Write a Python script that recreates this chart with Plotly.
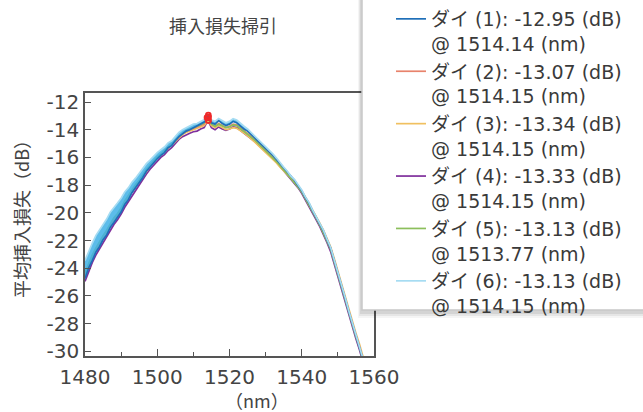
import plotly.graph_objects as go

# ---------------- data ----------------
WAVELENGTH = list(range(1480, 1559))  # nm

DIE1 = [-24.75, -24.0, -23.45, -22.85, -22.45, -21.95, -21.6, -21.05, -20.7, -20.3,
        -19.95, -19.4, -19.05, -18.55, -18.2, -17.8, -17.45, -17.0, -16.7, -16.35,
        -16.1, -15.85, -15.65, -15.3, -15.15, -14.8, -14.5, -14.3, -14.1, -14.0,
        -13.85, -13.75, -13.6, -13.45, -12.95, -13.5, -13.6, -13.35, -13.55, -13.7,
        -13.6, -13.4, -13.5, -13.75, -13.95, -14.1, -14.35, -14.6, -14.8, -15.1,
        -15.35, -15.55, -15.85, -16.15, -16.45, -16.8, -17.05, -17.4, -17.65, -18.05,
        -18.4, -18.9, -19.3, -19.85, -20.3, -20.85, -21.3, -21.95, -22.55, -23.45,
        -24.3, -25.25, -26.15, -27.1, -28.0, -28.85, -29.65, -30.55, -31.5]
DIE2 = [-24.4, -23.75, -23.15, -22.65, -22.15, -21.75, -21.35, -20.85, -20.45, -20.15,
        -19.75, -19.25, -18.85, -18.45, -18.05, -17.7, -17.35, -16.95, -16.6, -16.3,
        -16.0, -15.8, -15.55, -15.3, -15.05, -14.8, -14.5, -14.3, -14.1, -14.0,
        -13.9, -13.85, -13.7, -13.6, -13.07, -13.6, -13.75, -13.55, -13.7, -13.85,
        -13.75, -13.6, -13.65, -13.85, -14.05, -14.25, -14.45, -14.7, -14.95, -15.2,
        -15.45, -15.7, -15.95, -16.25, -16.55, -16.85, -17.15, -17.45, -17.75, -18.1,
        -18.45, -18.9, -19.35, -19.85, -20.35, -20.85, -21.35, -21.95, -22.55, -23.45,
        -24.35, -25.25, -26.15, -27.1, -28.05, -28.85, -29.65, -30.55, -31.55]
DIE3 = [-24.5, -23.8, -23.2, -22.7, -22.2, -21.8, -21.4, -20.9, -20.5, -20.2,
        -19.8, -19.3, -18.9, -18.5, -18.1, -17.75, -17.4, -17.0, -16.65, -16.35,
        -16.05, -15.85, -15.6, -15.35, -15.1, -14.85, -14.55, -14.35, -14.2, -14.1,
        -14.0, -13.95, -13.8, -13.7, -13.34, -13.7, -13.85, -13.7, -13.85, -14.0,
        -13.95, -13.85, -13.9, -14.05, -14.25, -14.45, -14.65, -14.9, -15.15, -15.4,
        -15.65, -15.85, -16.1, -16.4, -16.7, -16.95, -17.25, -17.5, -17.8, -18.1,
        -18.45, -18.85, -19.3, -19.75, -20.25, -20.75, -21.25, -21.85, -22.45, -23.3,
        -24.2, -25.1, -26.0, -26.95, -27.9, -28.7, -29.5, -30.4, -31.35]
DIE4 = [-24.95, -24.2, -23.6, -23.05, -22.6, -22.15, -21.75, -21.25, -20.85, -20.5,
        -20.1, -19.6, -19.2, -18.75, -18.35, -18.0, -17.6, -17.2, -16.85, -16.55,
        -16.25, -16.0, -15.8, -15.5, -15.3, -15.0, -14.7, -14.5, -14.35, -14.25,
        -14.15, -14.1, -13.95, -13.85, -13.33, -13.85, -14.0, -13.8, -13.95, -14.05,
        -13.95, -13.8, -13.85, -14.05, -14.2, -14.4, -14.6, -14.85, -15.1, -15.35,
        -15.55, -15.8, -16.05, -16.35, -16.65, -16.95, -17.25, -17.55, -17.85, -18.2,
        -18.6, -19.05, -19.5, -20.0, -20.5, -21.0, -21.55, -22.15, -22.8, -23.7,
        -24.6, -25.5, -26.4, -27.35, -28.3, -29.1, -29.9, -30.8, -31.8]
DIE5 = [-24.3, -23.65, -23.05, -22.55, -22.05, -21.65, -21.25, -20.75, -20.35, -20.05,
        -19.65, -19.15, -18.75, -18.35, -17.95, -17.65, -17.25, -16.85, -16.55, -16.25,
        -15.95, -15.75, -15.5, -15.25, -15.0, -14.75, -14.45, -14.25, -14.05, -13.95,
        -13.85, -13.8, -13.65, -13.5, -13.13, -13.6, -13.75, -13.6, -13.7, -13.85,
        -13.8, -13.65, -13.7, -13.9, -14.1, -14.3, -14.5, -14.75, -15.0, -15.25,
        -15.5, -15.75, -16.0, -16.3, -16.6, -16.9, -17.2, -17.5, -17.8, -18.15,
        -18.5, -18.95, -19.4, -19.9, -20.4, -20.9, -21.45, -22.05, -22.65, -23.55,
        -24.45, -25.35, -26.25, -27.2, -28.15, -28.95, -29.75, -30.65, -31.65]
DIE6 = [-23.45, -22.75, -22.2, -21.65, -21.25, -20.8, -20.45, -19.95, -19.65, -19.3,
        -18.95, -18.5, -18.2, -17.8, -17.5, -17.15, -16.85, -16.45, -16.2, -15.9,
        -15.65, -15.45, -15.25, -14.95, -14.8, -14.5, -14.2, -14.0, -13.85, -13.75,
        -13.6, -13.55, -13.4, -13.3, -13.13, -13.3, -13.4, -13.2, -13.35, -13.5,
        -13.4, -13.2, -13.3, -13.55, -13.75, -13.95, -14.2, -14.45, -14.7, -14.95,
        -15.25, -15.5, -15.75, -16.05, -16.4, -16.7, -17.0, -17.35, -17.6, -18.0,
        -18.35, -18.85, -19.25, -19.8, -20.25, -20.8, -21.25, -21.9, -22.5, -23.4,
        -24.25, -25.2, -26.1, -27.05, -27.95, -28.8, -29.6, -30.5, -31.45]

DIE_NAMES = ["ダイ (1)", "ダイ (2)", "ダイ (3)", "ダイ (4)", "ダイ (5)", "ダイ (6)"]
PEAK_DB = [-12.95, -13.07, -13.34, -13.33, -13.13, -13.13]
PEAK_NM = [1514.14, 1514.15, 1514.15, 1514.15, 1513.77, 1514.15]
COLORS = ["#1f6fb8", "#e8836c", "#f0c060", "#7f2f9c", "#8cbf5c", "#a6dcf2"]

X_TICKS = [1480, 1500, 1520, 1540, 1560]
Y_TICKS = [-12, -14, -16, -18, -20, -22, -24, -26, -28, -30]
Y_TICK_TEXT = ["-12", "-14", "-16", "-18", "-20", "-22", "-24", "-26", "-28", "-30"]

TITLE = "挿入損失掃引"
X_TITLE = "（nm）"
Y_TITLE = "平均挿入損失（dB）"

SERIES = [DIE1, DIE2, DIE3, DIE4, DIE5, DIE6]

# ---------------- figure ----------------
fig = go.Figure()

def label(i):
    return f"{DIE_NAMES[i]}: {PEAK_DB[i]:.2f} (dB)<br>@ {PEAK_NM[i]:.2f} (nm)"

def die_trace(i):
    return go.Scatter(x=WAVELENGTH, y=SERIES[i], mode="lines",
                      line=dict(color=COLORS[i], width=1.7),
                      name=label(i), legendrank=i + 1, legendgroup=f"d{i + 1}")

for i in [3, 2, 1, 4]:
    fig.add_trace(die_trace(i))

# ripple band between die 1 and die 6
fig.add_trace(go.Scatter(x=WAVELENGTH, y=DIE1, mode="lines", line=dict(width=0),
                         showlegend=False, hoverinfo="skip"))
fig.add_trace(go.Scatter(x=WAVELENGTH, y=DIE6, mode="lines", line=dict(width=0),
                         fill="tonexty", fillcolor="rgba(64,176,230,0.85)",
                         showlegend=False, hoverinfo="skip"))

for i in [0, 5]:
    fig.add_trace(die_trace(i))

fig.add_trace(go.Scatter(x=PEAK_NM, y=PEAK_DB, mode="markers",
                         marker=dict(symbol="circle-open", size=5, color="#ee2a2a",
                                     line=dict(width=1.6, color="#ee2a2a")),
                         showlegend=False))

axis_color = "#555555"
tick_font = dict(family="DejaVu Sans, Noto Sans CJK JP", size=20, color="#444444")

fig.update_xaxes(range=[1480, 1560], tickvals=X_TICKS, ticks="inside", ticklen=7,
                 tickwidth=1.2, tickcolor=axis_color, showline=True, linecolor=axis_color,
                 linewidth=1.5, mirror=True, showgrid=False, zeroline=False,
                 tickfont=tick_font, ticklabelstandoff=2, automargin=False,
                 minor=dict(dtick=10, tick0=1480, ticks="inside", ticklen=4,
                            tickcolor=axis_color, tickwidth=1.2, showgrid=False))
fig.update_yaxes(range=[-30.34, -11.35], tickvals=Y_TICKS, ticktext=Y_TICK_TEXT,
                 ticks="inside", ticklen=6, tickwidth=1.2, tickcolor=axis_color,
                 showline=True, linecolor=axis_color, linewidth=1.5, mirror=True,
                 showgrid=False, zeroline=False, tickfont=tick_font, ticklabelstandoff=0,
                 automargin=False)

W, H = 643, 412
L, R, T, B = 85, 269, 93, 56
pw, ph = W - L - R, H - T - B

def px_x(p):
    return (p - L) / pw

def px_y(p):
    return (H - B - p) / ph

# legend box (shadow + white box)
shapes = []
for off, alpha in [(8, 0.04), (6, 0.06), (4, 0.08)]:
    shapes.append(dict(type="rect", xref="paper", yref="paper",
                       x0=px_x(362 - off / 2), x1=px_x(700), y0=px_y(310 + off), y1=px_y(-5),
                       fillcolor=f"rgba(0,0,0,{alpha})", line=dict(width=0), layer="above"))
shapes.append(dict(type="rect", xref="paper", yref="paper",
                   x0=px_x(362), x1=px_x(700), y0=px_y(310), y1=px_y(-1),
                   fillcolor="white", line=dict(color="#c8c8c8", width=1.5), layer="above"))

fig.update_layout(
    width=W, height=H,
    margin=dict(l=L, r=R, t=T, b=B, pad=0, autoexpand=False),
    plot_bgcolor="white", paper_bgcolor="white",
    shapes=shapes,
    showlegend=True,
    legend=dict(x=px_x(391), xanchor="left", y=px_y(0), yanchor="top",
                bgcolor="rgba(0,0,0,0)", borderwidth=0, valign="top", maxheight=2000,
                tracegroupgap=3,
                font=dict(family="DejaVu Sans, Noto Sans CJK JP", size=19, color="#3a3a3a"),
                traceorder="normal"),
    annotations=[
        dict(text=TITLE, xref="paper", yref="paper", x=px_x(223), y=px_y(25),
             xanchor="center", yanchor="middle", showarrow=False,
             font=dict(family="Noto Sans CJK JP", size=18, color="#444444")),
        dict(text=X_TITLE, xref="paper", yref="paper", x=px_x(257), y=px_y(400),
             xanchor="center", yanchor="middle", showarrow=False,
             font=dict(family="Noto Sans CJK JP", size=18, color="#444444")),
        dict(text=Y_TITLE, xref="paper", yref="paper", x=px_x(21), y=px_y(215),
             xanchor="center", yanchor="middle", showarrow=False, textangle=-90,
             font=dict(family="Noto Sans CJK JP", size=18, color="#444444")),
    ],
)

fig.write_html("out.html", config={"displayModeBar": False},
               post_script="document.body.style.margin='0';")
